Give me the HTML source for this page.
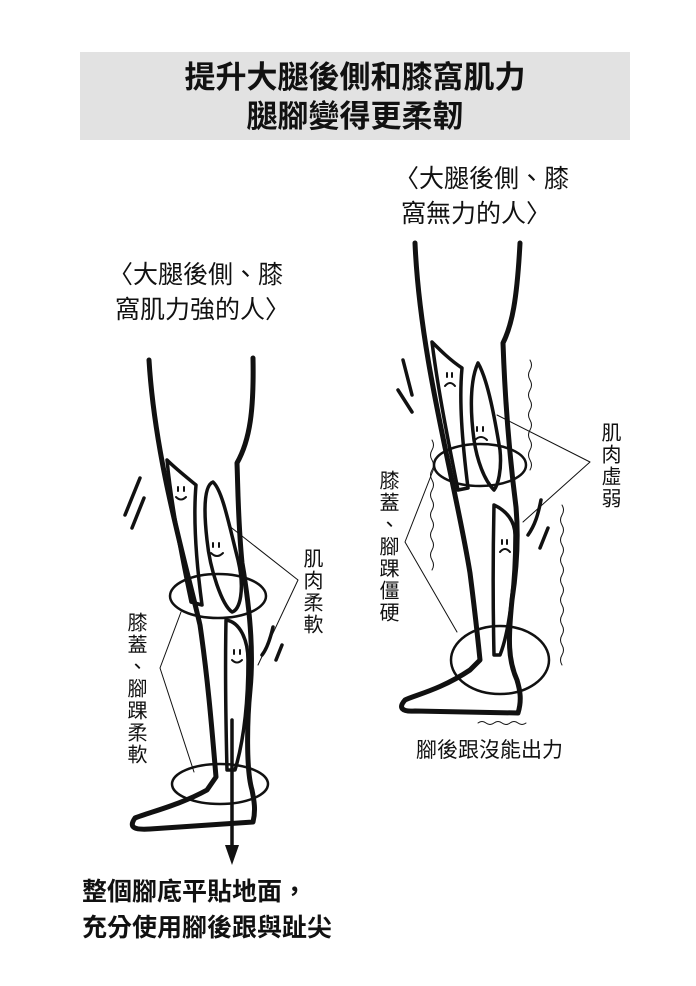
<!DOCTYPE html>
<html><head><meta charset="utf-8"><style>
body{margin:0;background:#fff;width:696px;height:986px;overflow:hidden;position:relative;font-family:"Liberation Sans","Noto Sans CJK TC",sans-serif;color:#111}
.t{position:absolute;white-space:nowrap}
.v{position:absolute;writing-mode:vertical-rl;font-size:20px;line-height:22px;letter-spacing:2px}
</style></head><body>
<div style="position:absolute;left:80px;top:52px;width:550px;height:88px;background:#e2e2e2"></div>
<div class="t" style="left:80px;width:550px;top:58px;text-align:center;font-size:31px;font-weight:bold;line-height:39px">提升大腿後側和膝窩肌力<br>腿腳變得更柔韌</div>
<div class="t" style="left:394px;top:162px;font-size:25px;line-height:35px">〈大腿後側、膝<br>&nbsp;窩無力的人〉</div>
<div class="t" style="left:108px;top:258px;font-size:25px;line-height:35px">〈大腿後側、膝<br>&nbsp;窩肌力強的人〉</div>
<div class="v" style="left:300px;top:548px">肌肉柔軟</div>
<div class="v" style="left:124px;top:612px">膝蓋、腳踝柔軟</div>
<div class="v" style="left:598px;top:422px">肌肉虛弱</div>
<div class="v" style="left:376px;top:470px">膝蓋、腳踝僵硬</div>
<div class="t" style="left:416px;top:734px;font-size:21px">腳後跟沒能出力</div>
<div class="t" style="left:82px;top:874px;font-size:25px;font-weight:bold;line-height:36px">整個腳底平貼地面，<br>充分使用腳後跟與趾尖</div>
<svg width="696" height="986" style="position:absolute;left:0;top:0" fill="none" stroke="#111" stroke-linecap="round" stroke-linejoin="round">
<g stroke-width="5">
<path d="M149 360 C155 460 185 560 200 625 C208 680 212 730 216 777 L207 790 C180 805 150 812 135 818 C128 828 135 830 150 829 L253 822 C256 810 254 800 252 790 C246 770 247 720 250 690 C253 660 252 620 242 563 C238 520 238 490 237 463 C250 440 254 410 253 358"/>
<path d="M415 243 C420 360 455 480 470 573 C476 620 478 640 480 660 L470 670 C440 690 415 695 405 700 C398 708 402 712 415 711 L518 713 C522 700 520 690 517 680 C508 660 508 640 512 600 C518 560 518 530 516 507 C510 460 505 400 503 343 C512 325 517 300 520 243"/>
</g>
<g stroke-width="3.5">
<path d="M167 460 C175 468 185 476 196 485 C193 520 196 560 202 605 L191 602 C182 560 172 510 167 460 Z"/>
<path d="M213 482 C222 490 228 520 238 560 C245 590 240 610 232 612 C222 605 210 570 207 540 C203 505 205 485 213 482 Z"/>
<path d="M226 620 C240 622 248 640 248 660 C248 700 244 740 235 770 L227 770 C226 730 225 670 226 620 Z"/>
<path d="M432 342 C440 350 450 360 462 368 C459 400 462 440 468 488 L458 490 C448 440 438 390 432 342 Z"/>
<path d="M478 363 C488 380 495 420 500 450 C502 470 498 485 494 490 C484 480 477 460 474 440 C470 410 470 380 478 363 Z"/>
<path d="M494 505 C505 510 515 520 515 535 C515 580 510 630 500 655 L494 655 C493 610 493 550 494 505 Z"/>
<path d="M140 478 L125 515 M144 498 L132 528 M273 627 C270 640 266 650 262 655 M282 645 L276 660 M403 360 L412 395 M398 390 L412 412 M541 500 C538 515 535 525 528 535 M548 528 L540 548"/>
<path d="M232 720 L232 845"/>
</g>
<g stroke-width="2">
<path d="M178 487v4M184 487v4M176 497q5 5 10 0"/>
<path d="M213 543v4M219 543v4M211 553q6 6 12 0"/>
<path d="M234 650v4M240 650v4M232 660q5 5 10 0"/>
<path d="M447 373v4M452 373v4M445 386q5 -6 10 0"/>
<path d="M477 427v4M483 427v4M475 440q6 -6 12 0"/>
<path d="M502 540v4M507 540v4M500 552q5 -6 10 0"/>
</g>
<path d="M225 845 L239 845 L232 865 Z" fill="#111" stroke="none"/>
<g stroke-width="2.5">
<ellipse cx="218" cy="596" rx="48" ry="22"/><ellipse cx="220" cy="784" rx="48" ry="20"/>
<ellipse cx="480" cy="465" rx="46" ry="21"/><ellipse cx="500" cy="660" rx="49" ry="34"/>
</g>
<g stroke-width="1">
<path d="M228 525 L298 580 L258 665 M181 612 L160 668 L194 772"/>
<path d="M497 415 L590 462 L523 522 M434 468 L405 542 L457 632"/>
<path d="M530 360 q3 5 0 10 q-3 5 0 10 q3 5 0 10 q-3 5 0 10 q3 5 0 10 q-3 5 0 10 q3 5 0 10 q-3 5 0 10 q3 5 0 10 q-3 5 0 10 q3 5 0 10"/>
<path d="M562 505 q3 5 0 10 q-3 5 0 10 q3 5 0 10 q-3 5 0 10 q3 5 0 10 q-3 5 0 10 q3 5 0 10 q-3 5 0 10 q3 5 0 10 q-3 5 0 10 q3 5 0 10 q-3 5 0 10 q3 5 0 10 q-3 5 0 10 q3 5 0 10 q-3 5 0 10"/>
<path d="M432 440 q3 5 0 10 q-3 5 0 10 q3 5 0 10 q-3 5 0 10 q3 5 0 10 q-3 5 0 10 q3 5 0 10 q-3 5 0 10 q3 5 0 10 q-3 5 0 10 q3 5 0 10 q-3 5 0 10 q3 5 0 10"/>
<path d="M478 723 q4 -3 8 0 q4 3 8 0 q4 -3 8 0 q4 3 8 0 q4 -3 8 0 q4 3 8 0"/>
</g>
</svg>
</body></html>
